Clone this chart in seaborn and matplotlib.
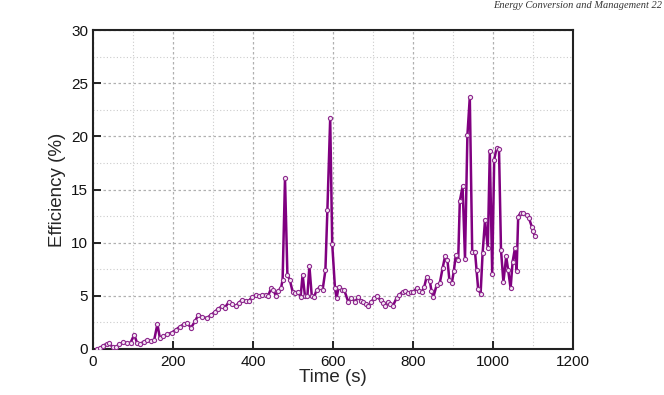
import matplotlib
matplotlib.use("Agg")
import matplotlib.pyplot as plt
import seaborn as sns
import pandas as pd
from matplotlib.ticker import MultipleLocator

time_s = [9, 17, 25, 34, 41, 49, 58, 66, 76, 84, 94, 103, 110, 117, 127, 136, 145, 153, 161, 167,
          176, 186, 197, 207, 217, 228, 235, 245, 255, 263,
          272, 284, 295, 305, 313, 322, 330, 340, 348, 357, 365, 373, 382, 390, 397, 407, 415, 423,
          432, 438, 445, 451, 457, 463, 470, 474,
          480, 486, 492, 499, 505, 513, 519, 524, 530, 536, 541, 547, 553, 559, 567, 574, 581, 586,
          593, 598, 605, 609, 614, 622, 628, 638, 646, 655, 663, 670, 676, 682, 688, 696, 703, 709,
          719, 725, 730, 738, 743, 749, 759, 766, 774, 781, 788, 795, 801, 809, 815, 822, 828, 834,
          842, 846, 851, 859, 867, 874, 880, 886, 891, 897, 902, 907, 913, 917, 924, 930, 936, 942,
          948, 955, 959, 963, 969, 974, 980, 987, 992, 998, 1003, 1009, 1015, 1020, 1026, 1033, 1038,
          1044, 1049, 1055, 1059, 1063, 1069, 1075, 1084, 1090, 1097, 1100, 1105]

efficiency = [0.0, 0.1, 0.3, 0.5, 0.55, 0.15, 0.2, 0.45, 0.63, 0.55, 0.6, 1.35, 0.6, 0.45, 0.7, 0.85,
              0.75, 0.85, 2.35, 1.07, 1.2, 1.38, 1.55, 1.8, 2.1, 2.35, 2.45, 2.0, 2.6, 3.2,
              3.05, 2.9, 3.2, 3.5, 3.8, 4.0, 3.9, 4.45, 4.2, 4.05, 4.35, 4.65, 4.55, 4.55, 4.85, 5.1,
              4.95, 5.1, 5.1, 5.0, 5.7, 5.55, 5.0, 5.5, 5.7, 6.5,
              16.05, 6.96, 6.5, 5.4, 5.3, 5.4, 4.9, 7.0, 4.95, 5.0, 7.8, 4.95, 4.9, 5.55, 5.8, 5.55,
              7.4, 13.1, 21.7, 9.9, 5.7, 4.8, 5.8, 5.55, 5.55, 4.45, 4.8, 4.45, 4.85, 4.5, 4.45, 4.2,
              4.0, 4.45, 4.8, 4.95, 4.6, 4.3, 4.0, 4.45, 4.2, 4.0, 4.8, 5.1, 5.4, 5.5, 5.3, 5.35, 5.4,
              5.7, 5.5, 5.4, 5.8, 6.8, 6.4, 5.5, 4.9, 6.0, 6.2, 7.6, 8.7, 8.4, 6.5, 6.2, 7.3, 8.85,
              8.4, 13.9, 15.3, 8.5, 20.1, 23.7, 9.15, 9.15, 7.4, 5.6, 5.2, 9.0, 12.1, 9.5, 18.6, 7.1,
              17.8, 18.9, 18.8, 9.3, 6.3, 8.7, 7.4, 5.7, 8.2, 9.5, 7.3, 12.45, 12.8, 12.8, 12.6, 12.3,
              11.5, 11.1, 10.6]

x_ticks = [0, 200, 400, 600, 800, 1000, 1200]
y_ticks = [0, 5, 10, 15, 20, 25, 30]

df = pd.DataFrame({"Time (s)": time_s, "Efficiency (%)": efficiency})

sns.set_style("white")
plt.rcParams["font.family"] = ["Liberation Sans", "DejaVu Sans"]

fig = plt.figure(figsize=(6.64, 3.95), dpi=100)
ax = fig.add_axes([93 / 664, 46 / 395, 480 / 664, 319 / 395])

sns.lineplot(data=df, x="Time (s)", y="Efficiency (%)", ax=ax, color="#800080", linewidth=1.8,
             marker="o", markersize=3.0, markerfacecolor="#f3e6f3", markeredgecolor="#8e2a8e",
             markeredgewidth=0.8, zorder=3)

ax.set_xlim(0, 1200)
ax.set_ylim(0, 30)
ax.set_xticks(x_ticks)
ax.set_yticks(y_ticks)
ax.xaxis.set_minor_locator(MultipleLocator(100))
ax.yaxis.set_minor_locator(MultipleLocator(2.5))
ax.grid(which="major", color="#b0b0b0", linestyle=(0, (2, 2)), linewidth=0.9)
ax.grid(which="minor", color="#cccccc", linestyle=(0, (1, 2)), linewidth=0.8)
ax.set_axisbelow(True)

for s in ax.spines.values():
    s.set_color("#222222")
    s.set_linewidth(1.5)

ax.tick_params(axis="both", which="major", direction="in", length=6, width=1.4,
               labelsize=11, colors="#222222", bottom=True, left=True, top=False, right=False)
ax.tick_params(axis="both", which="minor", length=0)
ax.tick_params(axis="x", pad=4)
ax.tick_params(axis="both", labelcolor="#111111")
ax.set_xlabel("Time (s)", fontsize=13.5, labelpad=0)
ax.set_ylabel("Efficiency (%)", fontsize=13.5, labelpad=4)

fig.text(662 / 664, 1 - 8 / 395, "Energy Conversion and Management 22",
         fontsize=7.5, fontstyle="italic", family=["Liberation Serif", "DejaVu Serif"],
         color="#333333", ha="right", va="baseline")

fig.savefig("out.png", dpi=100)
